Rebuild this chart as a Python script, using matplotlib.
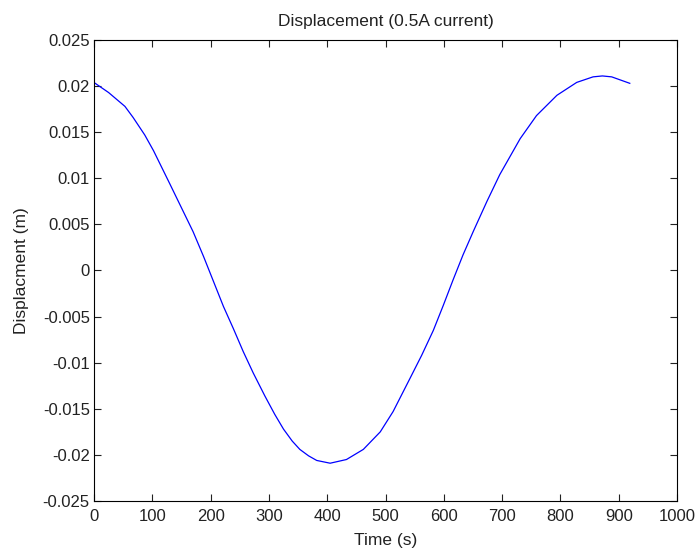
import matplotlib
matplotlib.use('Agg')
import matplotlib.pyplot as plt

# values
time_s = [2, 25, 53, 67, 87, 102, 116, 130, 150, 170, 188, 205, 222, 239,
          256, 273, 293, 310, 325, 340, 353, 368, 382, 405, 433, 462, 491,
          513, 542, 562, 582, 599, 616, 633, 651, 674, 696, 731, 759, 794,
          828, 856, 872, 888, 919]
displacement = [0.0203, 0.0193, 0.0178, 0.0166, 0.0147, 0.0130, 0.0112,
                0.0094, 0.0068, 0.0042, 0.0015, -0.0012, -0.0039, -0.0063,
                -0.0088, -0.0111, -0.0136, -0.0156, -0.0172, -0.0185, -0.0194,
                -0.0201, -0.0206, -0.0209, -0.0205, -0.0194, -0.0175, -0.0153,
                -0.0117, -0.0092, -0.0065, -0.0038, -0.0010, 0.0017, 0.0043,
                0.0075, 0.0104, 0.0143, 0.0168, 0.0190, 0.0204, 0.0210, 0.0211,
                0.0210, 0.0203]

xticks = [0, 100, 200, 300, 400, 500, 600, 700, 800, 900, 1000]
yticks = [-0.025, -0.02, -0.015, -0.01, -0.005, 0, 0.005, 0.01, 0.015, 0.02, 0.025]
ytick_labels = ['-0.025', '-0.02', '-0.015', '-0.01', '-0.005', '0',
                '0.005', '0.01', '0.015', '0.02', '0.025']

plt.rcParams['font.family'] = ['Liberation Sans', 'DejaVu Sans']

fig = plt.figure(figsize=(6.97, 5.53), dpi=100)
ax = fig.add_axes([0.1349, 0.094, 0.8364, 0.8337])
ax.plot(time_s, displacement, color='blue', linewidth=0.9)

ax.set_xlim(0, 1000)
ax.set_ylim(-0.025, 0.025)
ax.set_xticks(xticks)
ax.set_xticklabels([str(t) for t in xticks])
ax.set_yticks(yticks)
ax.set_yticklabels(ytick_labels)
ax.tick_params(direction='in', top=True, right=True, length=5, width=0.8,
               labelsize=12, colors='#222222', pad=3)
ax.tick_params(axis='x', pad=6)
for s in ax.spines.values():
    s.set_linewidth(0.8)

ax.set_title('Displacement (0.5A current)', fontsize=12.5, pad=10, color='#222222')
ax.set_xlabel('Time (s)', fontsize=12.5, labelpad=6, color='#222222')
ax.set_ylabel('Displacment (m)', fontsize=12.5, labelpad=10, color='#222222')

fig.savefig('out.png', dpi=100)
